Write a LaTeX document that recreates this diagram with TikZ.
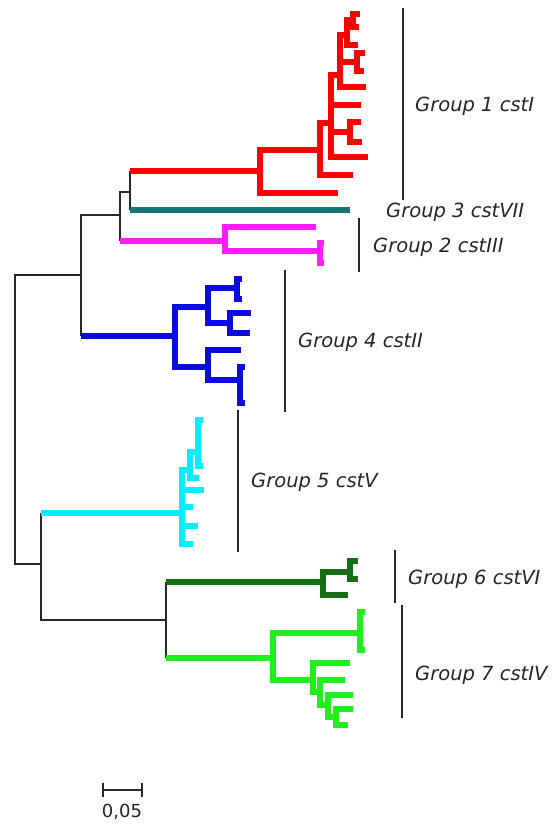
\documentclass[tikz,border=0pt]{standalone}
\usepackage{fontspec}
\setmainfont{DejaVu Sans}
\definecolor{cred}{RGB}{255,0,0}
\definecolor{cteal}{RGB}{22,118,118}
\definecolor{cmag}{RGB}{255,30,255}
\definecolor{cblue}{RGB}{10,10,225}
\definecolor{ccyan}{RGB}{0,240,255}
\definecolor{cdgreen}{RGB}{20,110,20}
\definecolor{clgreen}{RGB}{30,240,30}
\definecolor{cline}{RGB}{40,40,40}
\begin{document}
\begin{tikzpicture}[x=1pt,y=-1pt,
  bb/.style={line width=1.4pt, cline},
  cl/.style={line width=6.5pt, line cap=rect},
  stem/.style={line width=6.5pt, line cap=butt},
  grp/.style={line width=1.3pt, cline},
  lab/.style={font=\itshape\fontsize{19.5}{20}\selectfont, anchor=base west, inner sep=0pt, text=black!85}]
\useasboundingbox (0,0) rectangle (555,824);
\fill[white] (0,0) rectangle (555,824);

% backbone coordinates
\coordinate (R) at (15,420);
\coordinate (U) at (81,275);
\coordinate (N1) at (120,215);
\coordinate (N2) at (130,192);
\coordinate (L) at (41,564);
\coordinate (G) at (166,620);
% stems
\coordinate (A) at (260,171);
\coordinate (T) at (350,210);
\coordinate (M) at (225,241);
\coordinate (Bn) at (175,336);
\coordinate (C0) at (182,513);
\coordinate (DG) at (323,582);
\coordinate (LG) at (273,658);

% black backbone
\draw[bb] (R) |- (U);
\draw[bb] (R) |- (L);
\draw[bb] (U) |- (N1);
\draw[bb] (U) -- (U |- Bn);
\draw[bb] (N1) |- (N2);
\draw[bb] (N1) -- (N1 |- M);
\draw[bb] (N2) -- (N2 |- A);
\draw[bb] (N2) -- (N2 |- T);
\draw[bb] (L) -- (L |- C0);
\draw[bb] (L) |- (G);
\draw[bb] (G) -- (G |- DG);
\draw[bb] (G) -- (G |- LG);

% coloured stems
\draw[stem,cred] (N2 |- A) -- (A);
\draw[stem,cteal] (N2 |- T) -- (T);
\draw[stem,cmag] (N1 |- M) -- (M);
\draw[stem,cblue] (U |- Bn) -- (Bn);
\draw[stem,ccyan] (L |- C0) -- (C0);
\draw[stem,cdgreen] (G |- DG) -- (DG);
\draw[stem,clgreen] (G |- LG) -- (LG);

% ---- red clade (Group 1)
\coordinate (Bb) at (320,150);
\coordinate (Cc) at (331,123);
\coordinate (Kk) at (350,132);
\coordinate (Dd) at (340,75);
\coordinate (Ee) at (357,62);
\coordinate (Ff) at (347,35);
\coordinate (Gg) at (353,20);
\coordinate (a1) at (335,193);
\coordinate (b1) at (350,175);
\coordinate (c1) at (365,157);
\coordinate (c2) at (358,105);
\coordinate (k1) at (358,122);
\coordinate (k2) at (359,142);
\coordinate (d1) at (363,87);
\coordinate (e1) at (362,53);
\coordinate (e2) at (361,71);
\coordinate (f1) at (355,45);
\coordinate (g1) at (357,14);
\coordinate (g2) at (356,27);
\foreach \c in {a1,Bb} \draw[cl,cred] (A) |- (\c);
\foreach \c in {b1,Cc} \draw[cl,cred] (Bb) |- (\c);
\foreach \c in {c1,Kk,c2,Dd} \draw[cl,cred] (Cc) |- (\c);
\foreach \c in {k1,k2} \draw[cl,cred] (Kk) |- (\c);
\foreach \c in {d1,Ee,Ff} \draw[cl,cred] (Dd) |- (\c);
\foreach \c in {e1,e2} \draw[cl,cred] (Ee) |- (\c);
\foreach \c in {f1,Gg} \draw[cl,cred] (Ff) |- (\c);
\foreach \c in {g1,g2} \draw[cl,cred] (Gg) |- (\c);

% ---- magenta clade (Group 2)
\coordinate (Mt) at (320,251);
\coordinate (m1) at (313,227);
\coordinate (mt1) at (321,243);
\coordinate (mt2) at (321,263);
\foreach \c in {m1,Mt} \draw[cl,cmag] (M) |- (\c);
\foreach \c in {mt1,mt2} \draw[cl,cmag] (Mt) |- (\c);

% ---- blue clade (Group 4)
\coordinate (BU) at (208,307);
\coordinate (BL) at (208,367);
\coordinate (BU1) at (237,288);
\coordinate (BU2) at (230,323);
\coordinate (BL2) at (240,380);
\coordinate (u1) at (239,279);
\coordinate (u2) at (239,299);
\coordinate (u3) at (248,313);
\coordinate (u4) at (247,333);
\coordinate (l1) at (238,350);
\coordinate (l2) at (242,367);
\coordinate (l3) at (242,403);
\foreach \c in {BU,BL} \draw[cl,cblue] (Bn) |- (\c);
\foreach \c in {BU1,BU2} \draw[cl,cblue] (BU) |- (\c);
\foreach \c in {u1,u2} \draw[cl,cblue] (BU1) |- (\c);
\foreach \c in {u3,u4} \draw[cl,cblue] (BU2) |- (\c);
\foreach \c in {l1,BL2} \draw[cl,cblue] (BL) |- (\c);
\foreach \c in {l2,l3} \draw[cl,cblue] (BL2) |- (\c);

% ---- cyan clade (Group 5)
\coordinate (C1) at (190,470);
\coordinate (C2) at (198,452);
\coordinate (y1) at (201,490);
\coordinate (y2) at (190,507);
\coordinate (y3) at (195,526);
\coordinate (y4) at (190,544);
\coordinate (y5) at (196,478);
\coordinate (y6) at (200,420);
\coordinate (y7) at (200,466);
\foreach \c in {C1,y1,y2,y3,y4} \draw[cl,ccyan] (C0) |- (\c);
\foreach \c in {C2,y5} \draw[cl,ccyan] (C1) |- (\c);
\foreach \c in {y6,y7} \draw[cl,ccyan] (C2) |- (\c);

% ---- dark green clade (Group 6)
\coordinate (DG2) at (350,572);
\coordinate (h1) at (345,595);
\coordinate (h2) at (355,561);
\coordinate (h3) at (355,579);
\foreach \c in {h1,DG2} \draw[cl,cdgreen] (DG) |- (\c);
\foreach \c in {h2,h3} \draw[cl,cdgreen] (DG2) |- (\c);

% ---- light green clade (Group 7)
\coordinate (LG1) at (360,633);
\coordinate (LG2) at (313,680);
\coordinate (LG3) at (320,692);
\coordinate (LG4) at (328,705);
\coordinate (LG5) at (336,717);
\coordinate (j1) at (362,612);
\coordinate (j2) at (362,650);
\coordinate (j3) at (347,663);
\coordinate (j4) at (342,680);
\coordinate (j5) at (350,695);
\coordinate (j6) at (350,709);
\coordinate (j7) at (345,725);
\foreach \c in {LG1,LG2} \draw[cl,clgreen] (LG) |- (\c);
\foreach \c in {j1,j2} \draw[cl,clgreen] (LG1) |- (\c);
\foreach \c in {j3,LG3} \draw[cl,clgreen] (LG2) |- (\c);
\foreach \c in {j4,LG4} \draw[cl,clgreen] (LG3) |- (\c);
\foreach \c in {j5,LG5} \draw[cl,clgreen] (LG4) |- (\c);
\foreach \c in {j6,j7} \draw[cl,clgreen] (LG5) |- (\c);

% ---- group bars
\coordinate (g1t) at (403,8);   \coordinate (g1b) at (403,200);
\coordinate (g2t) at (359,218); \coordinate (g2b) at (359,272);
\coordinate (g4t) at (285,270); \coordinate (g4b) at (285,412);
\coordinate (g5t) at (238,410); \coordinate (g5b) at (238,552);
\coordinate (g6t) at (395,550); \coordinate (g6b) at (395,603);
\coordinate (g7t) at (402,605); \coordinate (g7b) at (402,718);
\draw[grp] (g1t) -- (g1b);
\draw[grp] (g2t) -- (g2b);
\draw[grp] (g4t) -- (g4b);
\draw[grp] (g5t) -- (g5b);
\draw[grp] (g6t) -- (g6b);
\draw[grp] (g7t) -- (g7b);

% ---- labels
\node[lab] (lab1) at (415,112) {Group 1 cstI};
\node[lab] (lab3) at (386,217) {Group 3 cstVII};
\node[lab] (lab2) at (373,252) {Group 2 cstIII};
\node[lab] (lab4) at (298,347) {Group 4 cstII};
\node[lab] (lab5) at (251,487) {Group 5 cstV};
\node[lab] (lab6) at (408,584) {Group 6 cstVI};
\node[lab] (lab7) at (415,680) {Group 7 cstIV};

% ---- scale bar
\coordinate (s1) at (103,790);
\coordinate (s2) at (142,790);
\draw[grp] (s1) -- (s2);
\draw[grp] ([yshift=-7pt]s1) -- ([yshift=7pt]s1);
\draw[grp] ([yshift=-7pt]s2) -- ([yshift=7pt]s2);
\node[font=\fontsize{18}{20}\selectfont, anchor=base, inner sep=0pt, text=black!85] (sl) at (122,817) {0,05};
\end{tikzpicture}
\end{document}
